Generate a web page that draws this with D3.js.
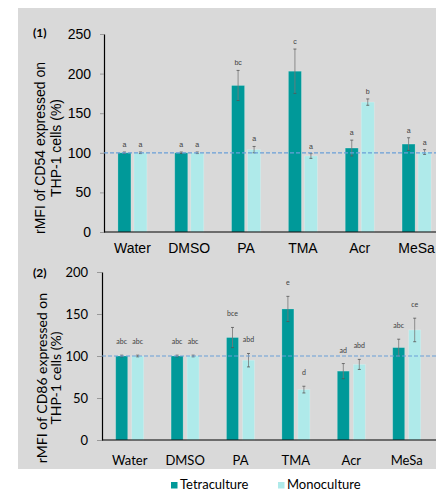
<!DOCTYPE html>
<html>
<head>
<meta charset="utf-8">
<script src="https://cdn.jsdelivr.net/npm/d3@7"></script>
<style>
    body { margin: 0; background: #ffffff; }
</style>
</head>
<body>
<div id="chart"></div>
<script>
// values
const categories = ["Water", "DMSO", "PA", "TMA", "Acr", "MeSa"];
const seriesNames = ["Tetraculture", "Monoculture"];

const cd54Tetra = [100, 100, 185, 203, 106, 111];
const cd54TetraErr = [1, 1, 19, 28, 10, 8];
const cd54Mono = [100, 100, 104, 96, 164, 101];
const cd54MonoErr = [1, 1, 4, 3, 4, 3];
const cd54TetraLetters = ["a", "a", "bc", "c", "a", "a"];
const cd54MonoLetters = ["a", "a", "a", "a", "b", "a"];

const cd86Tetra = [100, 100, 122, 156, 82, 110];
const cd86TetraErr = [1, 1, 12, 15, 9, 10];
const cd86Mono = [100, 100, 95, 60, 90, 131];
const cd86MonoErr = [1, 1, 8, 4, 6, 14];
const cd86TetraLetters = ["abc", "abc", "bce", "e", "ad", "abc"];
const cd86MonoLetters = ["abc", "abc", "abd", "d", "abd", "ce"];

const ticks54 = [0, 50, 100, 150, 200, 250];
const ticks86 = [0, 50, 100, 150, 200];

const width = 436,
    height = 490;
const teal = "#009999",
    aqua = "#afeaea";

let svg;

createSVG();
drawPanel({
    label: "(1)",
    title: ["rMFI of CD54 expressed on", "THP-1 cells (%)"],
    font: "'Liberation Sans', Arial, sans-serif",
    tetra: cd54Tetra, tetraErr: cd54TetraErr, mono: cd54Mono, monoErr: cd54MonoErr,
    tetraLetters: cd54TetraLetters, monoLetters: cd54MonoLetters,
    ticks: ticks54, yMax: 250,
    left: 104, right: 445, top: 34, bottom: 232,
    barHalf: 14.5, barPad: 0.1875,
    tickSize: 4, tickPad: 9, tickFont: 14,
    labelY: 253, labelFont: 14,
    titleY: 148, titleX: [45, 61], titleFont: 14,
    letterGap: 5, letterFont: 7,
    panelLabelX: 33, panelLabelY: 37
});
drawPanel({
    label: "(2)",
    title: ["rMFI of CD86 expressed on", "THP-1 cells (%)"],
    font: "Lato, 'Open Sans', sans-serif",
    tetra: cd86Tetra, tetraErr: cd86TetraErr, mono: cd86Mono, monoErr: cd86MonoErr,
    tetraLetters: cd86TetraLetters, monoLetters: cd86MonoLetters,
    ticks: ticks86, yMax: 200,
    left: 102, right: 434.4, top: 272, bottom: 440,
    barHalf: 14, barPad: 0.25,
    tickSize: 5, tickPad: 9, tickFont: 13,
    labelY: 465, labelFont: 13,
    titleY: 378, titleX: [47, 61], titleFont: 14,
    letterGap: 11, letterFont: 7,
    panelLabelX: 33, panelLabelY: 277
});
createLegend();

function createSVG() {
    svg = d3.select("#chart")
        .append("svg")
        .attr("width", width)
        .attr("height", height);

    svg.append("rect")
        .attr("x", 18)
        .attr("y", 8)
        .attr("width", width - 18)
        .attr("height", 461)
        .attr("fill", "#d9d9d9");
}

function drawPanel(p) {
    let g = svg.append("g");

    let x = d3.scaleBand().domain(categories).range([p.left, p.right]);
    let x1 = d3.scaleBand().domain(seriesNames).range([-p.barHalf, p.barHalf]).paddingInner(p.barPad);
    let y = d3.scaleLinear().domain([0, p.yMax]).range([p.bottom, p.top]);

    let rows = categories.map(function (c, i) {
        return [
            { cat: c, s: "Tetraculture", v: p.tetra[i], e: p.tetraErr[i], l: p.tetraLetters[i] },
            { cat: c, s: "Monoculture", v: p.mono[i], e: p.monoErr[i], l: p.monoLetters[i] }
        ];
    }).flat();

    function cx(d) {
        return x(d.cat) + x.bandwidth() / 2 + x1(d.s);
    }

    // bars
    g.selectAll(".bar")
        .data(rows)
        .enter().append("rect")
        .attr("class", "bar")
        .attr("x", cx)
        .attr("y", function (d) { return y(d.v); })
        .attr("width", x1.bandwidth())
        .attr("height", function (d) { return y(0) - y(d.v); })
        .attr("fill", function (d) { return d.s === "Tetraculture" ? teal : aqua; })
        .attr("stroke", "rgba(255,255,255,0.25)")
        .attr("stroke-width", 0.8);

    // error bars
    let err = g.selectAll(".err")
        .data(rows)
        .enter().append("g")
        .attr("class", "err")
        .attr("stroke", "#555")
        .attr("stroke-width", 0.8);
    err.append("line")
        .attr("x1", function (d) { return cx(d) + x1.bandwidth() / 2; })
        .attr("x2", function (d) { return cx(d) + x1.bandwidth() / 2; })
        .attr("y1", function (d) { return y(d.v + d.e); })
        .attr("y2", function (d) { return y(d.v - d.e); })
        .attr("stroke", "#777");
    [1, -1].forEach(function (sign) {
        err.append("line")
            .attr("x1", function (d) { return cx(d) + x1.bandwidth() / 2 - 1.5; })
            .attr("x2", function (d) { return cx(d) + x1.bandwidth() / 2 + 1.5; })
            .attr("y1", function (d) { return y(d.v + sign * d.e); })
            .attr("y2", function (d) { return y(d.v + sign * d.e); });
    });

    // significance letters
    g.selectAll(".letter")
        .data(rows)
        .enter().append("text")
        .attr("class", "letter")
        .attr("x", function (d) { return cx(d) + x1.bandwidth() / 2; })
        .attr("y", function (d) { return y(d.v + d.e) - p.letterGap; })
        .attr("text-anchor", "middle")
        .style("font-family", p.font)
        .style("font-size", p.letterFont + "px")
        .style("fill", "#404040")
        .text(function (d) { return d.l; });

    // y axis
    let yAxis = g.append("g")
        .attr("transform", "translate(" + p.left + ",0)")
        .call(d3.axisLeft(y).tickValues(p.ticks).tickSize(p.tickSize).tickSizeOuter(0).tickPadding(p.tickPad));
    yAxis.select(".domain").attr("stroke", "#000").attr("stroke-width", 1.2);
    yAxis.selectAll(".tick line").attr("stroke", "#999");
    yAxis.selectAll(".tick text")
        .style("font-family", p.font)
        .style("font-size", p.tickFont + "px")
        .style("fill", "#000");

    // x axis line
    g.append("line")
        .attr("x1", p.left)
        .attr("x2", width)
        .attr("y1", y(0))
        .attr("y2", y(0))
        .attr("stroke", "#000")
        .attr("stroke-width", 1.2);

    // reference line at 100 %
    g.append("line")
        .attr("x1", p.left)
        .attr("x2", width)
        .attr("y1", y(100))
        .attr("y2", y(100))
        .attr("stroke", "#6a9fd8")
        .attr("stroke-width", 1.2)
        .attr("stroke-dasharray", "4,2");

    // category labels
    g.selectAll(".cat")
        .data(categories)
        .enter().append("text")
        .attr("class", "cat")
        .attr("x", function (d) { return x(d) + x.bandwidth() / 2; })
        .attr("y", p.labelY)
        .attr("text-anchor", "middle")
        .style("font-family", p.font)
        .style("font-size", p.labelFont + "px")
        .style("fill", "#000")
        .text(function (d) { return d; });

    // axis title
    p.title.forEach(function (t, i) {
        g.append("text")
            .attr("transform", "translate(" + p.titleX[i] + "," + p.titleY + ") rotate(-90)")
            .attr("text-anchor", "middle")
            .style("font-family", p.font)
            .style("font-size", p.titleFont + "px")
            .style("fill", "#000")
            .text(t);
    });

    // panel label
    g.append("text")
        .attr("x", p.panelLabelX)
        .attr("y", p.panelLabelY)
        .style("font-family", "Lato, sans-serif")
        .style("font-weight", "bold")
        .style("font-size", "12px")
        .style("fill", "#000")
        .text(p.label);
}

function createLegend() {
    let legend = svg.append("g")
        .selectAll(".legend")
        .data(seriesNames)
        .enter().append("g")
        .attr("class", "legend")
        .attr("transform", function (d, i) { return "translate(" + (171 + i * 107) + ",482)"; });

    legend.append("rect")
        .attr("width", 6.5)
        .attr("height", 6.5)
        .attr("fill", function (d, i) { return i === 0 ? teal : aqua; });

    legend.append("text")
        .attr("x", 9)
        .attr("y", 6.5)
        .style("font-family", "Lato, sans-serif")
        .style("font-size", "13px")
        .style("fill", "#000")
        .text(function (d) { return d; });
}
</script>
</body>
</html>
